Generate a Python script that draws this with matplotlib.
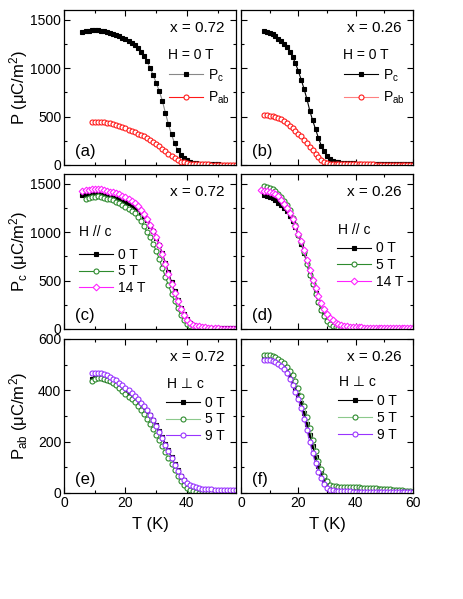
import matplotlib
matplotlib.use("Agg")
import matplotlib.pyplot as plt
from matplotlib.ticker import MultipleLocator

plt.rcParams['font.family'] = ['Liberation Sans', 'DejaVu Sans']
plt.rcParams['mathtext.fontset'] = 'custom'
plt.rcParams['mathtext.rm'] = 'Liberation Sans'
plt.rcParams['mathtext.it'] = 'Liberation Sans:italic'
plt.rcParams['mathtext.default'] = 'regular'

# ---------------- data ----------------
T_072 = [6, 7, 8, 9, 10, 11, 12, 13, 14, 15, 16, 17, 18, 19, 20, 21, 22, 23, 24, 25,
         26, 27, 28, 29, 30, 31, 32, 33, 34, 35, 36, 37, 38, 39, 40, 41, 42, 43, 44, 45,
         46, 47, 48, 49, 50, 51, 52, 53, 54, 55, 56]
T_072_9 = [9, 10, 11, 12, 13, 14, 15, 16, 17, 18, 19, 20, 21, 22, 23, 24, 25,
           26, 27, 28, 29, 30, 31, 32, 33, 34, 35, 36, 37, 38, 39, 40, 41, 42, 43, 44, 45,
           46, 47, 48, 49, 50, 51, 52, 53, 54, 55, 56]
T_072_c5 = [7, 8, 9, 10, 11, 12, 13, 14, 15, 16, 17, 18, 19, 20, 21, 22, 23, 24, 25,
            26, 27, 28, 29, 30, 31, 32, 33, 34, 35, 36, 37, 38, 39, 40, 41, 42, 43, 44, 45,
            46, 47, 48, 49, 50]
T_072_e5 = [9, 10, 11, 12, 13, 14, 15, 16, 17, 18, 19, 20, 21, 22, 23, 24, 25,
            26, 27, 28, 29, 30, 31, 32, 33, 34, 35, 36, 37, 38, 39, 40, 41, 42, 43, 44, 45,
            46, 47, 48, 49, 50]
T_026 = [8, 9, 10, 11, 12, 13, 14, 15, 16, 17, 18, 19, 20, 21, 22, 23, 24, 25,
         26, 27, 28, 29, 30, 31, 32, 33, 34, 35, 36, 37, 38, 39, 40, 41, 42, 43, 44, 45,
         46, 47, 48, 49, 50, 51, 52, 53, 54, 55, 56, 57, 58, 59, 60]
T_026_7 = [7] + T_026

# (a) x = 0.72, H = 0
a_Pc = [1372, 1380, 1386, 1390, 1392, 1391, 1388, 1382, 1375, 1366, 1355, 1343, 1330, 1316,
        1300, 1282, 1260, 1235, 1205, 1170, 1128, 1070, 1005, 930, 850, 765, 665, 540, 420,
        315, 225, 155, 105, 72, 48, 34, 24, 18, 14, 11, 9, 8, 7, 6, 6, 5, 5, 5, 4, 4, 4]
a_Pab = [439, 445, 447, 446, 443, 438, 432, 424, 415, 404, 391, 377, 364, 351, 338, 325, 312,
         297, 280, 261, 241, 219, 193, 166, 140, 114, 90, 68, 50, 36, 26, 19, 14, 11, 9, 8, 7,
         6, 6, 5, 5, 5, 5, 4, 4, 4, 4, 4]
# (b) x = 0.26, H = 0
b_Pc = [1380, 1375, 1365, 1350, 1330, 1305, 1278, 1250, 1215, 1170, 1115, 1050, 970, 880,
        785, 680, 560, 460, 370, 280, 200, 140, 90, 60, 42, 32, 26, 22, 20, 18, 17, 16, 15,
        15, 14, 14, 13, 13, 12, 12, 11, 11, 10, 10, 10, 9, 9, 9, 8, 8, 8, 8, 8]
b_Pab = [515, 513, 508, 502, 494, 484, 470, 452, 430, 405, 378, 352, 325, 296, 262, 225, 188,
         150, 115, 82, 55, 35, 22, 15, 12, 10, 9, 9, 8, 8, 8, 7, 7, 7, 7, 6, 6, 6, 6, 5, 5, 5,
         5, 5, 4, 4, 4, 4, 4, 3, 3, 3, 3]
# (c) x = 0.72, H // c
c_0T = [1380, 1386, 1390, 1392, 1392, 1390, 1386, 1380, 1373, 1365, 1357, 1348, 1337, 1325,
        1311, 1296, 1280, 1260, 1235, 1205, 1168, 1122, 1068, 1008, 942, 870, 780, 685, 585,
        485, 390, 300, 220, 152, 100, 65, 42, 30, 22, 17, 14, 12, 11, 10, 10, 10, 10, 10, 10,
        10, 10]
c_5T = [1342, 1352, 1360, 1366, 1368, 1364, 1356, 1347, 1337, 1327, 1316, 1300, 1282, 1262,
        1242, 1222, 1195, 1160, 1115, 1063, 1005, 945, 880, 808, 725, 630, 540, 450, 365, 285,
        215, 145, 95, 55, 30, 15, 8, 4, 2, 1, 0, 0, 0, 0]
c_14T = [1420, 1430, 1438, 1442, 1444, 1443, 1440, 1434, 1427, 1419, 1411, 1403, 1390, 1375,
         1358, 1340, 1322, 1298, 1268, 1232, 1190, 1135, 1078, 1015, 945, 870, 770, 670, 565,
         465, 370, 285, 205, 140, 90, 60, 42, 32, 26, 20, 16, 12, 10, 8, 6, 5, 5, 4, 4, 4, 4]
# (d) x = 0.26, H // c
d_0T = b_Pc
d_5T = [1472, 1465, 1452, 1440, 1420, 1395, 1360, 1325, 1280, 1225, 1150, 1070, 975, 895,
        790, 675, 555, 460, 360, 275, 195, 135, 87, 55, 32, 20, 12, 8, 5, 3, 2, 2, 1, 1, 1, 1,
        1, 1, 1, 1, 1, 1, 1, 1, 1, 1, 1, 1, 1, 1, 1, 1, 1]
d_14T = [1430, 1425, 1420, 1412, 1403, 1390, 1368, 1335, 1295, 1250, 1195, 1135, 1065, 985,
         905, 815, 710, 610, 510, 425, 340, 265, 205, 156, 118, 88, 65, 50, 40, 33, 28, 24,
         21, 19, 17, 16, 15, 14, 13, 12, 12, 11, 11, 10, 10, 10, 9, 9, 9, 8, 8, 8, 8, 8]
# (e) x = 0.72, H perp c
e_0T = [445, 448, 449, 448, 446, 442, 437, 431, 424, 416, 408, 399, 390, 381, 371, 360, 348,
        335, 320, 303, 284, 263, 241, 217, 192, 166, 139, 113, 89, 68, 50, 36, 26, 19, 15, 12,
        10, 9, 8, 8, 7, 7, 7, 6, 6, 6, 6, 6]
e_5T = [438, 443, 447, 448, 446, 442, 436, 428, 419, 409, 398, 386, 375, 365, 353, 340, 325,
        308, 290, 270, 249, 227, 206, 183, 160, 137, 113, 90, 68, 48, 32, 20, 12, 6, 3, 1, 0,
        0, 0, 0, 0, 0]
e_9T = [467, 468, 468, 467, 463, 458, 452, 446, 439, 430, 420, 410, 400, 390, 379, 366, 352,
        338, 323, 305, 284, 262, 239, 214, 188, 162, 136, 110, 87, 67, 51, 39, 31, 26, 22, 19,
        17, 16, 15, 14, 13, 12, 12, 11, 11, 10, 10, 10]
# (f) x = 0.26, H perp c
f_0T = [524, 525, 524, 521, 517, 510, 501, 490, 475, 456, 434, 409, 381, 349, 312, 270, 226,
        182, 141, 105, 76, 52, 34, 25, 22, 21, 21, 20, 20, 20, 19, 19, 19, 18, 18, 17, 17, 16,
        16, 15, 15, 14, 14, 13, 12, 11, 10, 9, 8, 7, 6, 5, 5]
f_5T = [538, 538, 537, 535, 530, 524, 516, 505, 492, 476, 458, 435, 408, 378, 340, 297, 252,
        207, 163, 125, 93, 67, 45, 33, 28, 26, 25, 24, 24, 23, 23, 23, 22, 22, 21, 20, 20, 19,
        19, 18, 17, 17, 16, 15, 14, 13, 12, 11, 10, 9, 8, 6, 5]
f_9T = [519, 519, 517, 514, 510, 503, 494, 483, 466, 445, 422, 395, 365, 330, 290, 245, 198,
        155, 115, 83, 58, 36, 19, 13, 10, 8, 7, 6, 6, 6, 6, 5, 5, 5, 5, 5, 5, 5, 4, 4, 4, 4, 4,
        4, 4, 4, 3, 3, 3, 3, 3, 3, 3]

# ---------------- styles ----------------
BLACK = '#000000'
RED = '#ff1a1a'
GREEN = '#2e8b2e'
GREEN_L = '#8cc98c'
MAG = '#ff22ff'
PURP = '#9933ff'
FS = 10

fig = plt.figure(figsize=(4.63, 5.99), dpi=100)
W, H = 463.0, 599.0
cols = [64, 241]
rows = [(10, 165), (174, 329), (339, 493)]
axes = []
for r, (top, bot) in enumerate(rows):
    rowax = []
    for c, x0 in enumerate(cols):
        ax = fig.add_axes([x0 / W, 1 - bot / H, 172 / W, (bot - top) / H])
        rowax.append(ax)
    axes.append(rowax)


def style(ax, ylim, ymaj, ymin, xlim, showx, showy):
    ax.set_xlim(*xlim)
    ax.set_ylim(*ylim)
    ax.xaxis.set_major_locator(MultipleLocator(20))
    ax.xaxis.set_minor_locator(MultipleLocator(10))
    ax.yaxis.set_major_locator(MultipleLocator(ymaj))
    ax.yaxis.set_minor_locator(MultipleLocator(ymin))
    ax.tick_params(which='both', direction='in', top=True, right=True, width=0.8,
                   labelsize=FS, pad=2)
    ax.tick_params(which='major', length=4)
    ax.tick_params(which='minor', length=2.5)
    ax.tick_params(labelbottom=showx, labelleft=showy)
    for s in ax.spines.values():
        s.set_linewidth(0.9)


def series(ax, T, P, color, marker, label, lcolor=None, ms=3.6, filled=False, z=2):
    ax.plot(T, P, color=lcolor or color, lw=0.8, marker=marker, ms=ms,
            mec=color, mfc=color if filled else 'white', mew=0.8, label=label, zorder=z)


def legend(ax, x, y, spacing):
    ax.legend(loc='upper left', bbox_to_anchor=(x, y), frameon=False, fontsize=FS,
              borderaxespad=0, borderpad=0, handlelength=2.45, handletextpad=0.35,
              labelspacing=spacing)


# (a)
ax = axes[0][0]
series(ax, T_072, a_Pc, BLACK, 's', 'P$_c$', lcolor='#888888', ms=3.0, filled=True)
series(ax, T_072_9, a_Pab, RED, 'o', 'P$_{ab}$')
legend(ax, 0.61, 0.63, 0.45)
# (b)
ax = axes[0][1]
series(ax, T_026, b_Pc, BLACK, 's', 'P$_c$', ms=3.0, filled=True)
series(ax, T_026, b_Pab, RED, 'o', 'P$_{ab}$', lcolor='#ff8080')
legend(ax, 0.60, 0.63, 0.45)
# (c)
ax = axes[1][0]
series(ax, T_072, c_0T, BLACK, 's', '0 T', ms=3.0, filled=True)
series(ax, T_072_c5, c_5T, GREEN, 'o', '5 T')
series(ax, T_072, c_14T, MAG, 'D', '14 T', ms=3.4)
legend(ax, 0.087, 0.525, 0.2)
# (d)
ax = axes[1][1]
series(ax, T_026, d_0T, BLACK, 's', '0 T', ms=3.0, filled=True)
series(ax, T_026, d_5T, GREEN, 'o', '5 T')
series(ax, T_026_7, d_14T, MAG, 'D', '14 T', ms=3.4)
legend(ax, 0.558, 0.565, 0.2)
# (e)
ax = axes[2][0]
series(ax, T_072_9, e_0T, BLACK, 's', '0 T', ms=3.0, filled=True)
series(ax, T_072_e5, e_5T, GREEN, 'o', '5 T', lcolor=GREEN_L)
series(ax, T_072_9, e_9T, PURP, 'o', '9 T')
legend(ax, 0.593, 0.632, 0.2)
# (f)
ax = axes[2][1]
series(ax, T_026, f_0T, BLACK, 's', '0 T', ms=3.0, filled=True)
series(ax, T_026, f_5T, GREEN, 'o', '5 T', lcolor=GREEN_L)
series(ax, T_026, f_9T, PURP, 'o', '9 T')
legend(ax, 0.564, 0.642, 0.2)

# axes styling
ylims = [((0, 1600), 500, 250), ((0, 1600), 500, 250), ((0, 600), 200, 100)]
for r in range(3):
    for c in range(2):
        yl, ymj, ymn = ylims[r]
        style(axes[r][c], yl, ymj, ymn, (0, 56) if c == 0 else (0, 60), r == 2, c == 0)

# texts
xs = ['x = 0.72', 'x = 0.26']
hs = ['H = 0 T', 'H // c', 'H \u22a5 c']
hpos = [[(0.605, 0.71), (0.593, 0.71)], [(0.087, 0.626), (0.564, 0.64)],
        [(0.60, 0.71), (0.57, 0.72)]]
labels = [['(a)', '(b)'], ['(c)', '(d)'], ['(e)', '(f)']]
for r in range(3):
    for c in range(2):
        ax = axes[r][c]
        ax.text(0.935, 0.885, xs[c], transform=ax.transAxes, ha='right', va='center',
                fontsize=FS + 1)
        ax.text(hpos[r][c][0], hpos[r][c][1], hs[r], transform=ax.transAxes, ha='left',
                va='center', fontsize=FS)
        ax.text(0.064, 0.09, labels[r][c], transform=ax.transAxes, ha='left', va='center',
                fontsize=FS + 2)

ylabels = ['P (\u03bcC/m$^{2}$)', 'P$_c$ (\u03bcC/m$^{2}$)', 'P$_{ab}$ (\u03bcC/m$^{2}$)']
for r in range(3):
    axes[r][0].set_ylabel(ylabels[r], fontsize=FS + 2)
    axes[r][0].yaxis.set_label_coords(-0.2, 0.5)
for c in range(2):
    axes[2][c].set_xlabel('T (K)', fontsize=FS + 2, labelpad=5)

fig.savefig('out.png', dpi=100)
